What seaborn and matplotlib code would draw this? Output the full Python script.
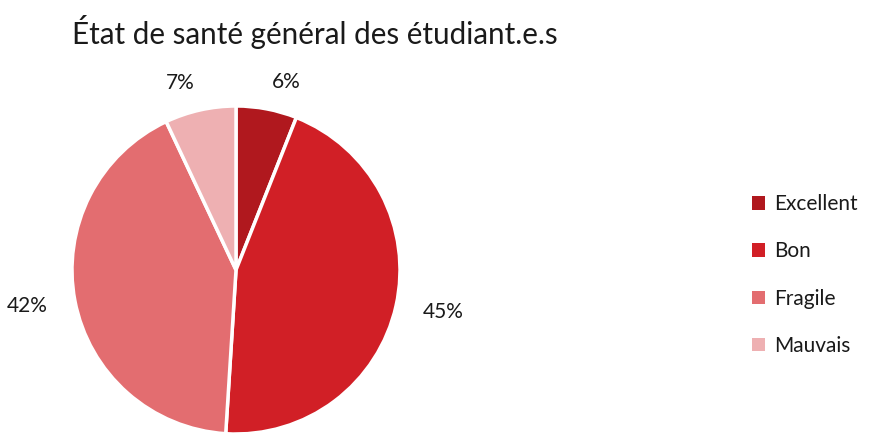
import matplotlib
matplotlib.use("Agg")
import matplotlib.pyplot as plt
from matplotlib.patches import Patch
import seaborn as sns

categories = ["Excellent", "Bon", "Fragile", "Mauvais"]
values = [6, 45, 42, 7]
colors = ["#B0181E", "#D11F26", "#E36D70", "#EEB0B2"]
title = "État de santé général des étudiant.e.s"

sns.set_theme(style="white")
plt.rcParams['font.family'] = ['Lato', 'DejaVu Sans']

W, H = 872, 434
fig = plt.figure(figsize=(W / 100, H / 100), dpi=100)

cx, cy, r = 236, 270, 164
ax = fig.add_axes([(cx - r) / W, (H - cy - r) / H, 2 * r / W, 2 * r / H])
labels = [f"{v}%" for v in values]
wedges, texts = ax.pie(values, colors=colors, startangle=90, counterclock=False,
                       labels=labels, labeldistance=1.17,
                       wedgeprops=dict(edgecolor="white", linewidth=2.5),
                       textprops=dict(fontsize=15, color="#1a1a1a"))
ax.set_xlim(-1, 1)
ax.set_ylim(-1, 1)
ax.set_aspect("equal")
ax.axis("off")

fig.text(72 / W, 1 - 32 / H, title, fontsize=21.3, color="#1a1a1a",
         va="center", ha="left")

handles = [Patch(facecolor=c, edgecolor="none") for c in colors]
leg = fig.legend(handles, categories, loc="center left",
                 bbox_to_anchor=(752 / W, 1 - 275 / H), frameon=False,
                 handlelength=0.6, handleheight=0.6,
                 handletextpad=0.45, labelspacing=1.3, borderpad=0,
                 borderaxespad=0, prop=dict(size=15))
for t in leg.get_texts():
    t.set_color("#1a1a1a")

fig.savefig("out.png", dpi=100, facecolor="white")
